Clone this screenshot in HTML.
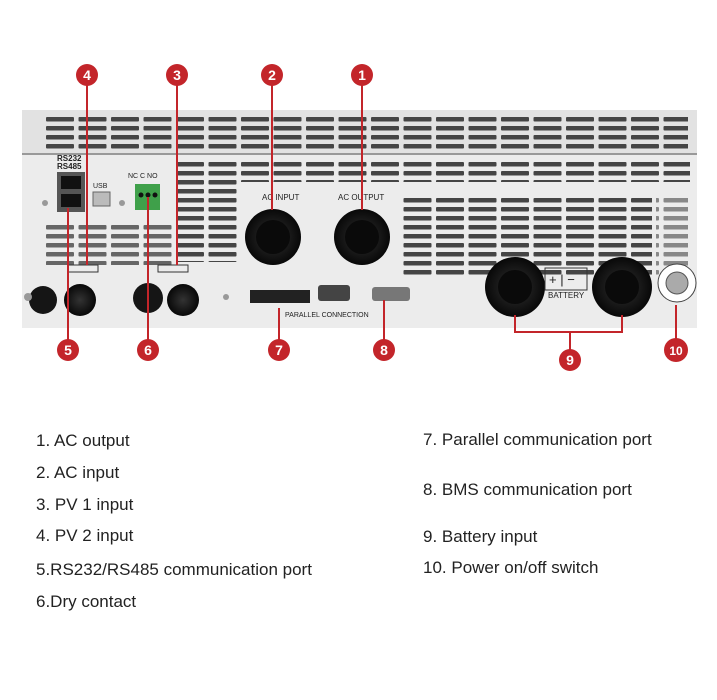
<!DOCTYPE html>
<html><head><meta charset="utf-8"><style>
body{margin:0;background:#fff;width:717px;height:700px;overflow:hidden;font-family:"Liberation Sans",sans-serif}
.t{position:absolute;font-size:17px;color:#222;white-space:nowrap}
</style></head><body>
<svg width="717" height="400" style="position:absolute;left:0;top:0" xmlns="http://www.w3.org/2000/svg">
<defs>
<pattern id="sl" x="46" y="0" width="32.5" height="9" patternUnits="userSpaceOnUse">
<rect x="0" y="0" width="28" height="4.5" rx="1" fill="#454545"/></pattern>
<radialGradient id="g1"><stop offset="0" stop-color="#333"/><stop offset="1" stop-color="#080808"/></radialGradient>
</defs>
<rect x="22" y="110" width="675" height="44" fill="#e2e2e2"/>
<rect x="46" y="117" width="642" height="36" fill="url(#sl)"/>
<rect x="22" y="153" width="675" height="2" fill="#999"/>
<rect x="22" y="155" width="675" height="173" fill="#ececec"/>
<rect x="178" y="162" width="512" height="20" fill="url(#sl)"/>
<rect x="178" y="182" width="60" height="80" fill="url(#sl)"/>
<rect x="402" y="196" width="250" height="80" fill="url(#sl)"/>
<rect x="656" y="196" width="32" height="80" fill="url(#sl)" opacity=".6"/>
<rect x="46" y="225" width="130" height="40" fill="url(#sl)" opacity=".8"/>
<text x="57" y="161" font-size="8" font-weight="bold" fill="#222">RS232</text>
<text x="57" y="169" font-size="8" font-weight="bold" fill="#222">RS485</text>
<rect x="57" y="172" width="28" height="40" fill="#555"/>
<rect x="61" y="176" width="20" height="13" fill="#111"/><rect x="61" y="194" width="20" height="13" fill="#111"/>
<text x="93" y="188" font-size="7" fill="#222">USB</text>
<rect x="93" y="192" width="17" height="14" fill="#bbb" stroke="#666"/>
<circle cx="45" cy="203" r="3" fill="#999"/><circle cx="122" cy="203" r="3" fill="#999"/>
<text x="128" y="178" font-size="7" fill="#222">NC  C  NO</text>
<rect x="135" y="184" width="25" height="26" fill="#3fa04a"/>
<circle cx="141" cy="195" r="2.5" fill="#111"/><circle cx="148" cy="195" r="2.5" fill="#111"/><circle cx="155" cy="195" r="2.5" fill="#111"/>
<rect x="68" y="265" width="30" height="7" fill="none" stroke="#333"/>
<rect x="158" y="265" width="30" height="7" fill="none" stroke="#333"/>
<circle cx="43" cy="300" r="14" fill="#151515"/><circle cx="80" cy="300" r="16" fill="url(#g1)"/>
<circle cx="148" cy="298" r="15" fill="#151515"/><circle cx="183" cy="300" r="16" fill="url(#g1)"/>
<circle cx="28" cy="297" r="4" fill="#999"/><circle cx="226" cy="297" r="3" fill="#999"/>
<text x="262" y="200" font-size="8" fill="#222">AC  INPUT</text>
<text x="338" y="200" font-size="8" fill="#222">AC  OUTPUT</text>
<circle cx="273" cy="237" r="28" fill="url(#g1)"/><circle cx="273" cy="237" r="17" fill="#0a0a0a"/>
<circle cx="362" cy="237" r="28" fill="url(#g1)"/><circle cx="362" cy="237" r="17" fill="#0a0a0a"/>
<rect x="250" y="290" width="60" height="13" fill="#222"/>
<rect x="318" y="285" width="32" height="16" rx="3" fill="#444"/>
<rect x="372" y="287" width="38" height="14" rx="3" fill="#777"/>
<text x="285" y="317" font-size="7" fill="#222">PARALLEL  CONNECTION</text>
<circle cx="515" cy="287" r="30" fill="url(#g1)"/><circle cx="515" cy="287" r="17" fill="#0a0a0a"/>
<circle cx="622" cy="287" r="30" fill="url(#g1)"/><circle cx="622" cy="287" r="17" fill="#0a0a0a"/>
<rect x="545" y="268" width="42" height="22" fill="none" stroke="#333"/>
<text x="549" y="284" font-size="13" fill="#222">+ | −</text>
<text x="548" y="298" font-size="8" fill="#222">BATTERY</text>
<circle cx="677" cy="283" r="19" fill="#fff" stroke="#444"/><circle cx="677" cy="283" r="11" fill="#aaa" stroke="#555"/>
<g stroke="#c3252a" stroke-width="2" fill="none">
<line x1="87" y1="84" x2="87" y2="265"/><line x1="177" y1="84" x2="177" y2="265"/>
<line x1="272" y1="84" x2="272" y2="210"/><line x1="362" y1="84" x2="362" y2="210"/>
<line x1="68" y1="208" x2="68" y2="340"/><line x1="148" y1="197" x2="148" y2="340"/>
<line x1="279" y1="308" x2="279" y2="340"/><line x1="384" y1="300" x2="384" y2="340"/>
<polyline points="515,315 515,332 622,332 622,315"/><line x1="570" y1="332" x2="570" y2="350"/>
<line x1="676" y1="305" x2="676" y2="340"/>
</g>
<g fill="#c3252a">
<circle cx="87" cy="75" r="11"/><circle cx="177" cy="75" r="11"/><circle cx="272" cy="75" r="11"/><circle cx="362" cy="75" r="11"/>
<circle cx="68" cy="350" r="11"/><circle cx="148" cy="350" r="11"/><circle cx="279" cy="350" r="11"/><circle cx="384" cy="350" r="11"/>
<circle cx="570" cy="360" r="11"/><circle cx="676" cy="350" r="12"/>
</g>
<g fill="#fff" font-size="14" font-weight="bold" text-anchor="middle">
<text x="87" y="80">4</text><text x="177" y="80">3</text><text x="272" y="80">2</text><text x="362" y="80">1</text>
<text x="68" y="355">5</text><text x="148" y="355">6</text><text x="279" y="355">7</text><text x="384" y="355">8</text>
<text x="570" y="365">9</text><text x="676" y="355" font-size="12">10</text>
</g>
</svg>
<div class="t" style="left:36px;top:431px">1. AC output</div>
<div class="t" style="left:36px;top:463px">2. AC input</div>
<div class="t" style="left:36px;top:495px">3. PV 1 input</div>
<div class="t" style="left:36px;top:526px">4. PV 2 input</div>
<div class="t" style="left:36px;top:560px">5.RS232/RS485 communication port</div>
<div class="t" style="left:36px;top:592px">6.Dry contact</div>
<div class="t" style="left:423px;top:430px">7. Parallel communication port</div>
<div class="t" style="left:423px;top:480px">8. BMS communication port</div>
<div class="t" style="left:423px;top:527px">9. Battery input</div>
<div class="t" style="left:423px;top:558px">10. Power on/off switch</div>
</body></html>
